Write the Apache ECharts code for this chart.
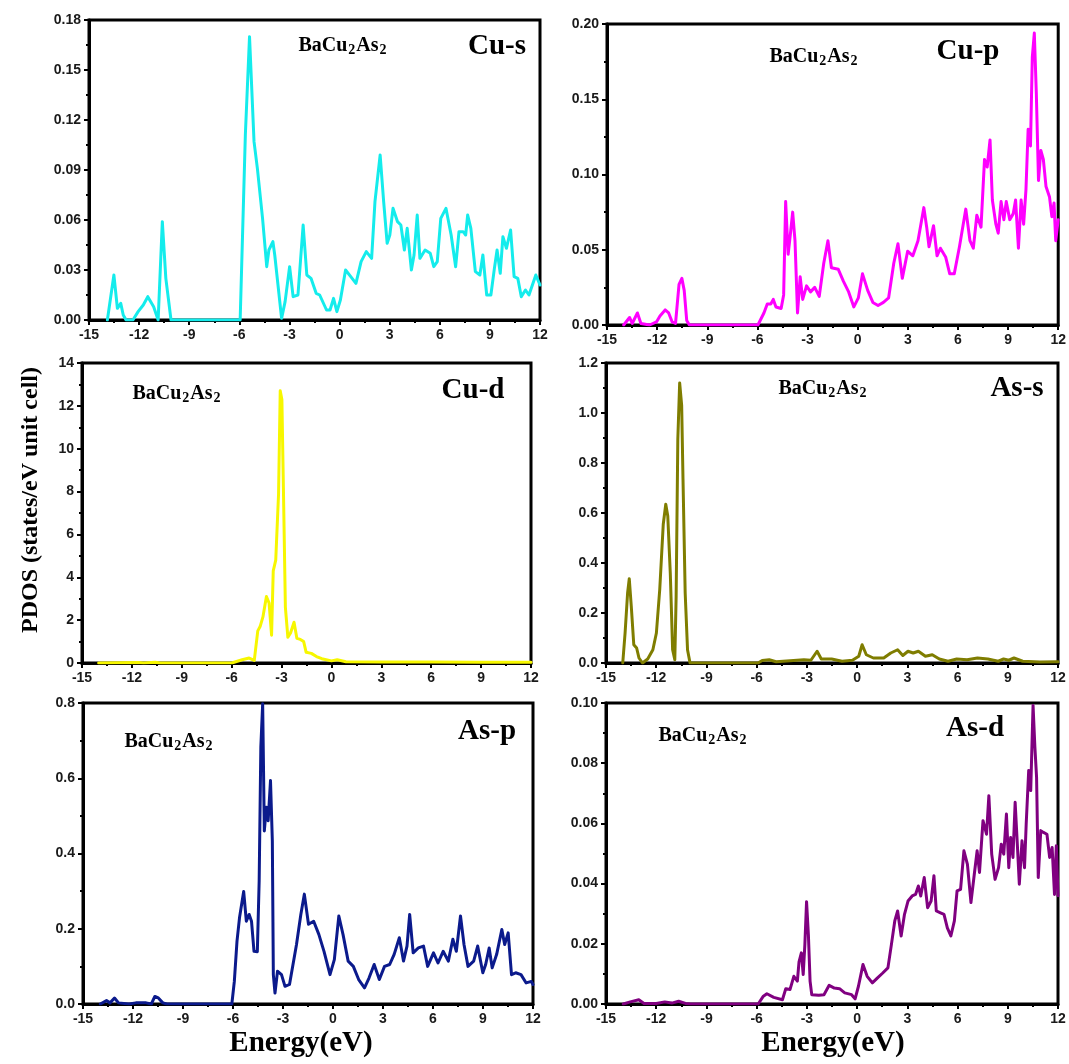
<!DOCTYPE html>
<html>
<head>
<meta charset="utf-8">
<script src="https://cdn.jsdelivr.net/npm/echarts@6/dist/echarts.min.js"></script>
<style>
html,body{margin:0;padding:0;background:#fff;}
#chart{width:1069px;height:1064px;}
</style>
</head>
<body>
<div id="chart"></div>
<script>
// ---------- data (Energy in eV, PDOS in states/eV unit cell) ----------
const xTicks = [-15, -12, -9, -6, -3, 0, 3, 6, 9, 12];

const cuS_E = [-13.9,-13.51,-13.3,-13.1,-12.95,-12.78,-12.37,-12.06,-11.75,-11.48,-11.13,-10.86,-10.61,-10.4,-10.09,-5.95,-5.64,-5.39,-5.12,-4.92,-4.61,-4.36,-4.23,-3.99,-3.88,-3.47,-3.26,-2.99,-2.78,-2.49,-2.18,-1.96,-1.71,-1.4,-1.19,-0.78,-0.57,-0.36,-0.16,0.05,0.36,0.67,0.98,1.29,1.6,1.92,2.12,2.43,2.64,2.85,3.01,3.2,3.47,3.67,3.88,4.05,4.3,4.46,4.65,4.81,5.12,5.43,5.64,5.85,6.06,6.37,6.68,6.95,7.15,7.4,7.55,7.67,7.86,8.13,8.4,8.58,8.81,9.06,9.27,9.43,9.62,9.78,9.99,10.24,10.45,10.67,10.88,11.13,11.34,11.75,12.0];
const cuS_V = [0,0.027,0.007,0.010,0.003,0,0,0.005,0.009,0.014,0.008,0,0.059,0.025,0,0,0.111,0.170,0.107,0.091,0.061,0.032,0.042,0.047,0.039,0.001,0.011,0.032,0.014,0.015,0.057,0.027,0.025,0.016,0.015,0.006,0.006,0.013,0.005,0.012,0.030,0.026,0.022,0.035,0.041,0.037,0.071,0.099,0.071,0.046,0.051,0.067,0.059,0.057,0.042,0.055,0.030,0.039,0.063,0.037,0.042,0.040,0.032,0.035,0.061,0.067,0.051,0.032,0.053,0.053,0.051,0.063,0.055,0.029,0.027,0.039,0.015,0.015,0.031,0.042,0.028,0.050,0.043,0.054,0.026,0.025,0.014,0.018,0.015,0.027,0.021];

const cuP_E = [-14.0,-13.65,-13.49,-13.18,-12.97,-12.45,-12.04,-11.83,-11.52,-11.31,-11.1,-10.9,-10.69,-10.52,-10.38,-10.23,-10.07,-5.97,-5.61,-5.41,-5.2,-5.05,-4.89,-4.58,-4.43,-4.31,-4.16,-4.02,-3.89,-3.75,-3.6,-3.44,-3.29,-3.06,-2.82,-2.57,-2.3,-2.03,-1.78,-1.57,-1.16,-0.85,-0.54,-0.23,0.04,0.29,0.6,0.91,1.22,1.54,1.85,2.16,2.41,2.67,2.99,3.3,3.61,3.96,4.13,4.27,4.54,4.75,4.95,5.27,5.51,5.78,6.09,6.47,6.72,6.92,7.13,7.38,7.59,7.75,7.92,8.06,8.27,8.41,8.58,8.75,8.89,9.1,9.31,9.45,9.62,9.78,9.93,10.07,10.2,10.34,10.45,10.57,10.69,10.82,10.96,11.11,11.27,11.48,11.62,11.75,11.85,12.0];
const cuP_V = [0,0.005,0.001,0.008,0.001,0,0.002,0.006,0.010,0.008,0.002,0.001,0.027,0.031,0.023,0.003,0,0,0.008,0.014,0.014,0.017,0.012,0.011,0.020,0.082,0.047,0.061,0.075,0.056,0.008,0.032,0.017,0.026,0.022,0.025,0.019,0.041,0.056,0.038,0.037,0.029,0.022,0.012,0.018,0.034,0.023,0.015,0.013,0.015,0.018,0.041,0.054,0.031,0.049,0.046,0.056,0.078,0.065,0.052,0.066,0.046,0.051,0.045,0.034,0.034,0.052,0.077,0.056,0.051,0.073,0.065,0.110,0.105,0.123,0.083,0.067,0.061,0.082,0.070,0.082,0.070,0.074,0.083,0.051,0.083,0.067,0.090,0.130,0.119,0.178,0.194,0.154,0.096,0.116,0.110,0.092,0.085,0.072,0.081,0.056,0.070];

const cuD_E = [-14.0,-11.6,-11.3,-10.6,-10.3,-6.0,-5.37,-4.95,-4.64,-4.43,-4.29,-4.12,-3.91,-3.75,-3.6,-3.5,-3.35,-3.18,-3.08,-2.98,-2.87,-2.77,-2.62,-2.46,-2.25,-2.08,-1.87,-1.67,-1.52,-1.21,-0.9,-0.58,0.0,0.35,0.87,3.0,6.0,9.0,12.0];
const cuD_V = [0,0.02,0,0.03,0,0,0.15,0.23,0.12,1.5,1.7,2.15,3.1,2.8,1.3,4.3,4.8,7.9,12.7,12.3,7.3,2.6,1.2,1.4,1.9,1.15,1.1,1.0,0.5,0.45,0.3,0.2,0.1,0.15,0.06,0.05,0.05,0.04,0.04];

const asS_E = [-14.0,-13.86,-13.71,-13.61,-13.49,-13.34,-13.17,-13.03,-12.82,-12.51,-12.2,-11.99,-11.79,-11.58,-11.43,-11.31,-11.16,-11.02,-10.89,-10.81,-10.71,-10.6,-10.48,-10.4,-10.27,-10.13,-9.98,-5.92,-5.67,-5.25,-4.84,-3.59,-3.18,-2.76,-2.39,-2.14,-1.52,-0.9,-0.28,0.1,0.3,0.55,0.97,1.59,2.01,2.42,2.73,3.04,3.35,3.66,4.08,4.49,4.91,5.43,5.95,6.57,7.19,7.81,8.43,8.75,9.06,9.37,9.89,10.92,12.0];
const asS_V = [0,0.12,0.28,0.337,0.227,0.073,0.06,0.02,0,0.016,0.053,0.12,0.294,0.555,0.635,0.588,0.36,0.053,0.013,0.267,0.895,1.12,1.03,0.735,0.28,0.053,0,0,0.010,0.013,0.005,0.011,0.013,0.011,0.047,0.016,0.016,0.007,0.011,0.027,0.073,0.033,0.020,0.020,0.040,0.053,0.030,0.047,0.040,0.047,0.027,0.033,0.016,0.007,0.016,0.013,0.020,0.016,0.007,0.016,0.011,0.020,0.007,0.004,0.005];

const asP_E = [-13.96,-13.59,-13.38,-13.11,-12.87,-12.24,-11.83,-11.21,-10.9,-10.69,-10.48,-10.21,-9.96,-6.07,-5.92,-5.76,-5.61,-5.36,-5.2,-5.03,-4.89,-4.74,-4.54,-4.43,-4.33,-4.22,-4.12,-4.0,-3.89,-3.75,-3.64,-3.58,-3.48,-3.33,-3.09,-2.88,-2.61,-2.4,-2.19,-1.93,-1.72,-1.47,-1.16,-0.85,-0.54,-0.18,0.08,0.35,0.6,0.91,1.22,1.54,1.89,2.16,2.47,2.78,3.09,3.4,3.67,3.98,4.23,4.44,4.6,4.81,5.12,5.43,5.68,6.03,6.3,6.61,6.92,7.19,7.4,7.65,7.86,8.1,8.44,8.68,8.99,9.16,9.37,9.55,9.82,10.13,10.3,10.51,10.71,10.96,11.28,11.59,11.9,12.0];
const asP_V = [0,0.009,0.003,0.016,0.003,0,0.003,0.003,0,0.020,0.016,0.003,0,0,0.06,0.167,0.229,0.299,0.22,0.238,0.22,0.14,0.139,0.327,0.683,0.798,0.46,0.523,0.487,0.594,0.434,0.078,0.029,0.087,0.078,0.047,0.052,0.105,0.158,0.238,0.292,0.212,0.22,0.185,0.14,0.078,0.118,0.234,0.185,0.114,0.100,0.065,0.043,0.069,0.105,0.065,0.100,0.105,0.132,0.176,0.114,0.154,0.238,0.136,0.149,0.154,0.100,0.136,0.109,0.140,0.114,0.172,0.140,0.234,0.158,0.100,0.114,0.154,0.083,0.105,0.149,0.096,0.132,0.198,0.158,0.189,0.078,0.083,0.078,0.056,0.060,0.052];

const asD_E = [-13.97,-13.55,-13.04,-12.73,-12.0,-11.49,-11.07,-10.66,-10.25,-9.94,-5.91,-5.6,-5.39,-4.98,-4.46,-4.26,-4.01,-3.78,-3.57,-3.47,-3.33,-3.22,-3.12,-3.02,-2.91,-2.81,-2.71,-2.29,-1.98,-1.67,-1.36,-1.05,-0.74,-0.33,-0.12,0.08,0.35,0.6,0.91,1.22,1.53,1.84,2.05,2.25,2.42,2.63,2.83,3.04,3.29,3.49,3.66,3.8,4.01,4.21,4.42,4.59,4.73,4.98,5.19,5.39,5.6,5.81,5.97,6.18,6.38,6.59,6.8,7.0,7.17,7.31,7.52,7.73,7.87,8.04,8.24,8.45,8.61,8.76,8.92,9.06,9.17,9.31,9.44,9.58,9.69,9.85,10.0,10.1,10.25,10.37,10.51,10.62,10.72,10.82,10.97,11.13,11.34,11.5,11.65,11.79,11.9,12.0];
const asD_V = [0,0.0007,0.0014,0.0002,0.0002,0.0007,0.0003,0.0009,0.0002,0,0,0.0026,0.0034,0.0022,0.0014,0.0051,0.0048,0.0092,0.0076,0.014,0.017,0.0098,0.0198,0.034,0.023,0.0076,0.0031,0.0029,0.0031,0.0062,0.0053,0.0051,0.0037,0.0031,0.0017,0.0059,0.0131,0.0092,0.0070,0.0087,0.0103,0.0120,0.0198,0.0276,0.0309,0.0226,0.0298,0.0342,0.0359,0.0364,0.0392,0.0359,0.0420,0.0320,0.0342,0.0426,0.0309,0.0303,0.0298,0.0253,0.0226,0.0276,0.0376,0.0381,0.0509,0.0464,0.0337,0.0431,0.0509,0.0437,0.0609,0.0564,0.0692,0.0498,0.0414,0.0453,0.0531,0.0498,0.0631,0.0453,0.0553,0.0487,0.0670,0.0520,0.0398,0.0542,0.0453,0.0598,0.0776,0.0709,0.0992,0.0853,0.0753,0.0420,0.0576,0.0570,0.0564,0.0487,0.0520,0.0364,0.0526,0.0360];

const panelNames = ['Cu-s','Cu-p','Cu-d','As-s','As-p','As-d'];
const compound = 'BaCu2As2';
const yTitle = 'PDOS (states/eV unit cell)';
const xTitle = 'Energy(eV)';

// ---------- layout / style ----------
const panels = [
  {E: cuS_E, V: cuS_V, color: '#14ecec', grid: {left: 89, top: 20, width: 451, height: 300}, yMax: 0.18, yInt: 0.03, dec: 2,
   name: [497, 47], comp: [343, 46]},
  {E: cuP_E, V: cuP_V, color: '#ff00ff', grid: {left: 607, top: 24, width: 452, height: 301}, yMax: 0.20, yInt: 0.05, dec: 2,
   name: [968, 52], comp: [814, 57]},
  {E: cuD_E, V: cuD_V, color: '#f7f700', grid: {left: 82, top: 363, width: 449, height: 300}, yMax: 14, yInt: 2, dec: 0,
   name: [473, 391], comp: [177, 394]},
  {E: asS_E, V: asS_V, color: '#7f7d00', grid: {left: 606, top: 363, width: 452, height: 300}, yMax: 1.2, yInt: 0.2, dec: 1,
   name: [1017, 389], comp: [823, 389]},
  {E: asP_E, V: asP_V, color: '#0b1a8c', grid: {left: 83, top: 703, width: 450, height: 301}, yMax: 0.8, yInt: 0.2, dec: 1,
   name: [487, 732], comp: [169, 742]},
  {E: asD_E, V: asD_V, color: '#800080', grid: {left: 606, top: 703, width: 452, height: 301}, yMax: 0.10, yInt: 0.02, dec: 2,
   name: [975, 729], comp: [703, 736]}
];

const serif = '"Liberation Serif", "Times New Roman", serif';
const sans = '"Liberation Sans", Arial, sans-serif';

const grids = [], xAxes = [], yAxes = [], series = [], graphics = [];
panels.forEach((p, i) => {
  grids.push(Object.assign({show: true, borderColor: '#000', borderWidth: 3, backgroundColor: 'transparent'}, p.grid));
  xAxes.push({
    type: 'value', gridIndex: i, min: -15, max: 12, interval: 3,
    axisLine: {show: true, onZero: false, lineStyle: {color: '#000', width: 3}},
    axisTick: {show: true, length: 5, lineStyle: {color: '#000', width: 2}},
    minorTick: {show: true, splitNumber: 2, length: 3, lineStyle: {color: '#000', width: 2}},
    splitLine: {show: false},
    axisLabel: {color: '#1a1a1a', fontFamily: sans, fontWeight: 'bold', fontSize: 14, margin: 8,
                showMinLabel: true, showMaxLabel: true, formatter: v => String(v)}
  });
  yAxes.push({
    type: 'value', gridIndex: i, min: 0, max: p.yMax, interval: p.yInt,
    axisLine: {show: true, onZero: false, lineStyle: {color: '#000', width: 3}},
    axisTick: {show: true, length: 5, lineStyle: {color: '#000', width: 2}},
    minorTick: {show: true, splitNumber: 2, length: 3, lineStyle: {color: '#000', width: 2}},
    splitLine: {show: false},
    axisLabel: {color: '#1a1a1a', fontFamily: sans, fontWeight: 'bold', fontSize: 14, margin: 8,
                showMinLabel: true, showMaxLabel: true, formatter: v => Number(v).toFixed(p.dec)}
  });
  series.push({
    type: 'line', xAxisIndex: i, yAxisIndex: i, showSymbol: false, symbol: 'none',
    lineStyle: {color: p.color, width: 3, join: 'round', cap: 'round'}, clip: true, animation: false,
    data: p.E.map((e, k) => [e, p.V[k]])
  });
  graphics.push({
    type: 'text', x: p.name[0], y: p.name[1],
    style: {text: panelNames[i], fill: '#000', font: 'bold 29px ' + serif,
            align: 'center', verticalAlign: 'middle', textAlign: 'center', textVerticalAlign: 'middle'}
  });
  graphics.push({
    type: 'text', x: p.comp[0], y: p.comp[1],
    style: {
      text: '{a|BaCu}{b|2}{a|As}{b|2}', fill: '#000',
      align: 'center', verticalAlign: 'middle', textAlign: 'center', textVerticalAlign: 'middle',
      rich: {
        a: {fontFamily: serif, fontWeight: 'bold', fontSize: 20, lineHeight: 22, fill: '#000', verticalAlign: 'middle'},
        b: {fontFamily: serif, fontWeight: 'bold', fontSize: 14, lineHeight: 22, fill: '#000', verticalAlign: 'bottom', padding: [0, 1, 0, 1]}
      }
    }
  });
});

graphics.push({
  type: 'text', x: 31, y: 500, rotation: Math.PI / 2,
  style: {text: yTitle, fill: '#000', font: 'bold 24px ' + serif,
          align: 'center', verticalAlign: 'middle', textAlign: 'center', textVerticalAlign: 'middle'}
});
graphics.push({
  type: 'text', x: 301, y: 1044,
  style: {text: xTitle, fill: '#000', font: 'bold 29px ' + serif,
          align: 'center', verticalAlign: 'middle', textAlign: 'center', textVerticalAlign: 'middle'}
});
graphics.push({
  type: 'text', x: 833, y: 1044,
  style: {text: xTitle, fill: '#000', font: 'bold 29px ' + serif,
          align: 'center', verticalAlign: 'middle', textAlign: 'center', textVerticalAlign: 'middle'}
});

const chart = echarts.init(document.getElementById('chart'), null, {renderer: 'canvas'});
chart.setOption({
  backgroundColor: '#ffffff',
  animation: false,
  grid: grids,
  xAxis: xAxes,
  yAxis: yAxes,
  series: series,
  graphic: graphics
});
</script>
</body>
</html>
